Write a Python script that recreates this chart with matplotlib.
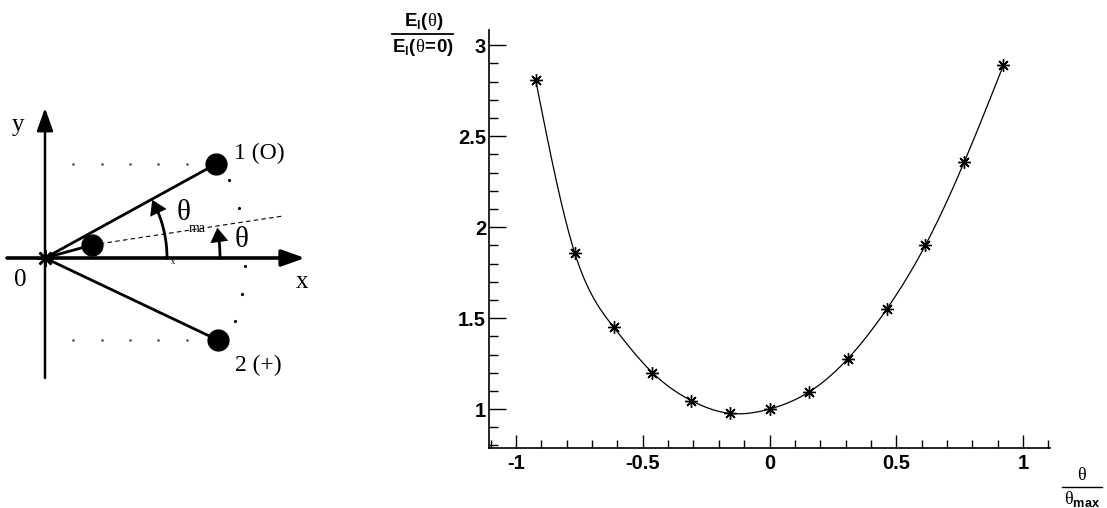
import numpy as np
import matplotlib.pyplot as plt
from matplotlib.patches import FancyArrowPatch

# data
theta_ratio = [-0.923, -0.769, -0.615, -0.462, -0.308, -0.154, 0.0,
               0.154, 0.308, 0.462, 0.615, 0.769, 0.923]
energy_ratio = [2.81, 1.86, 1.45, 1.20, 1.046, 0.976, 1.0,
                1.092, 1.275, 1.548, 1.90, 2.36, 2.89]
x_ticks = [-1, -0.5, 0, 0.5, 1]
x_tick_labels = ['-1', '-0.5', '0', '0.5', '1']
y_ticks = [1, 1.5, 2, 2.5, 3]
y_tick_labels = ['1', '1.5', '2', '2.5', '3']

# sketch geometry (polar, around origin)
atom1 = (195, 28.8)      # radius, angle in degrees
atom2 = (192, -25.4)
small_atom = (49, 15.5)
arc_dot_angles = [22.8, 14.5, -2.3, -10.3, -18.5]
row_dot_x = [28, 57, 85, 113, 142]

plt.rcParams['font.family'] = ['Liberation Sans', 'DejaVu Sans']
plt.rcParams['mathtext.fontset'] = 'custom'
plt.rcParams['mathtext.rm'] = 'Liberation Serif'
plt.rcParams['mathtext.bf'] = 'Liberation Sans:bold'

fig = plt.figure(figsize=(11.07, 5.08), dpi=100)

# ---------------- left sketch (1 unit = 1 pixel) ----------------
sk = fig.add_axes([0, 0, 340 / 1107, 1])
sk.set_xlim(-45, 295)
sk.set_ylim(-250, 258)
sk.axis('off')

def polar(r, a):
    return r * np.cos(np.radians(a)), r * np.sin(np.radians(a))

serif = 'Liberation Serif'
# axes
sk.add_patch(FancyArrowPatch((-38, 0), (260, 0), arrowstyle='-|>,head_length=14,head_width=5',
                             mutation_scale=1.0, lw=2.6, color='black', shrinkA=0, shrinkB=0))
sk.add_patch(FancyArrowPatch((0, -120), (0, 150), arrowstyle='-|>,head_length=14,head_width=5',
                             mutation_scale=1.0, lw=1.8, color='black', shrinkA=0, shrinkB=0))
sk.plot([0], [0], marker=(8, 2, 0), ms=12, mew=1.8, color='black')

p1 = polar(*atom1)
p2 = polar(*atom2)
ps = polar(*small_atom)
sk.plot([0, p1[0]], [0, p1[1]], color='black', lw=2)
sk.plot([0, p2[0]], [0, p2[1]], color='black', lw=2)
sk.plot([0, ps[0]], [0, ps[1]], color='black', lw=2)
sk.plot([p1[0], p2[0], ps[0]], [p1[1], p2[1], ps[1]], 'o', color='black', ms=15)

# dashed direction through small atom
sk.plot([ps[0], 238], [ps[1], 42], color='black', lw=0.8, ls=(0, (4, 3)))

# dotted guides
sk.plot(row_dot_x, [p1[1]] * len(row_dot_x), ls='none', marker='.', ms=1.8, color='#555555')
sk.plot(row_dot_x, [p2[1]] * len(row_dot_x), ls='none', marker='.', ms=1.8, color='#555555')
dx, dy = zip(*[polar(200, a) for a in arc_dot_angles])
sk.plot(dx, dy, ls='none', marker='.', ms=2.5, color='black')

# angle arrows
a1 = np.radians(np.linspace(0, 25, 30))
sk.plot(122 * np.cos(a1), 122 * np.sin(a1), color='black', lw=2)
sk.add_patch(FancyArrowPatch(polar(122, 22), polar(122, 28.5), arrowstyle='-|>,head_length=8,head_width=5',
                             mutation_scale=1.3, lw=0, color='black', shrinkA=0, shrinkB=0))
a2 = np.radians(np.linspace(0, 7, 10))
sk.plot(175 * np.cos(a2), 175 * np.sin(a2), color='black', lw=2)
sk.add_patch(FancyArrowPatch(polar(175, 5.5), polar(175, 10), arrowstyle='-|>,head_length=8,head_width=5',
                             mutation_scale=1.3, lw=0, color='black', shrinkA=0, shrinkB=0))

sk.text(-27, 133, 'y', fontsize=18, family=serif, ha='center', va='center')
sk.text(-25, -22, '0', fontsize=18, family=serif, ha='center', va='center')
sk.text(257, -24, 'x', fontsize=18, family=serif, ha='center', va='center')
sk.text(214, 105, '1 (O)', fontsize=17, family=serif, ha='center', va='center')
sk.text(213, -107, '2 (+)', fontsize=17, family=serif, ha='center', va='center')
sk.text(197, 18, 'θ', fontsize=21, family=serif, ha='center', va='center')
sk.text(139, 45, 'θ', fontsize=21, family=serif, ha='center', va='center')
sk.text(152, 30, 'ma', fontsize=10, family=serif, ha='center', va='center')
sk.text(128, -4, 'x', fontsize=6, family=serif, ha='center', va='center')

# ---------------- right chart ----------------
ax = fig.add_axes([489 / 1107, 1 - 448 / 508, (1050 - 489) / 1107, (448 - 30) / 508])
ax.set_xlim(-1.107, 1.107)
ax.set_ylim(0.786, 3.084)

# smooth curve through the points (natural cubic spline)
xs = np.array(theta_ratio)
ys = np.array(energy_ratio)
n = len(xs)
h = np.diff(xs)
A = np.zeros((n, n))
b = np.zeros(n)
A[0, 0] = A[-1, -1] = 1
for i in range(1, n - 1):
    A[i, i - 1] = h[i - 1]
    A[i, i] = 2 * (h[i - 1] + h[i])
    A[i, i + 1] = h[i]
    b[i] = 6 * ((ys[i + 1] - ys[i]) / h[i] - (ys[i] - ys[i - 1]) / h[i - 1])
M = np.linalg.solve(A, b)
xf, yf = [], []
for i in range(n - 1):
    t = np.linspace(xs[i], xs[i + 1], 30)
    u0 = xs[i + 1] - t
    u1 = t - xs[i]
    yy = (M[i] * u0 ** 3 + M[i + 1] * u1 ** 3) / (6 * h[i]) \
        + (ys[i] / h[i] - M[i] * h[i] / 6) * u0 + (ys[i + 1] / h[i] - M[i + 1] * h[i] / 6) * u1
    xf.extend(t)
    yf.extend(yy)
ax.plot(xf, yf, color='black', lw=0.9)
ax.plot(theta_ratio, energy_ratio, ls='none', marker=(8, 2, 0), ms=9, mew=1.0, color='black')

for s in ['top', 'right']:
    ax.spines[s].set_visible(False)
for s in ['left', 'bottom']:
    ax.spines[s].set_linewidth(1.2)

ax.set_xticks(x_ticks)
ax.set_xticklabels(x_tick_labels)
ax.set_yticks(y_ticks)
ax.set_yticklabels(y_tick_labels)
ax.set_xticks(np.arange(-1.1, 1.11, 0.1), minor=True)
ax.set_yticks(np.arange(0.8, 3.01, 0.1), minor=True)
ax.tick_params(axis='x', which='major', direction='in', length=9.4, width=1, labelsize=14.5, pad=4)
ax.tick_params(axis='x', which='minor', direction='in', length=5.8, width=1)
ax.tick_params(axis='y', which='major', direction='in', length=12.2, width=1, labelsize=14.5, pad=2)
ax.tick_params(axis='y', which='minor', direction='in', length=6.7, width=1)
for lab in ax.get_xticklabels() + ax.get_yticklabels():
    lab.set_fontweight('bold')

# y axis title as a fraction
fig.text(424 / 1107, 1 - 22 / 508, r'$\mathbf{E_l(}\mathrm{\theta}\mathbf{)}$', fontsize=13.5,
         ha='center', va='center')
fig.text(423 / 1107, 1 - 48 / 508, r'$\mathbf{E_l(}\mathrm{\theta}\!\mathbf{=}\!\mathbf{0)}$',
         fontsize=13.5, ha='center', va='center')
fig.add_artist(plt.Line2D([392 / 1107, 453 / 1107], [1 - 34 / 508, 1 - 34 / 508],
                          color='black', lw=1.3))

# x axis title as a fraction
fig.text(1082 / 1107, 1 - 476 / 508, r'$\mathrm{\theta}$', fontsize=13, ha='center', va='center')
fig.text(1082 / 1107, 1 - 499 / 508, r'$\mathrm{\theta}_{\mathbf{max}}$', fontsize=13,
         ha='center', va='center')
fig.add_artist(plt.Line2D([1062 / 1107, 1102 / 1107], [1 - 487 / 508, 1 - 487 / 508],
                          color='black', lw=1))

fig.savefig('out.png', dpi=100)
